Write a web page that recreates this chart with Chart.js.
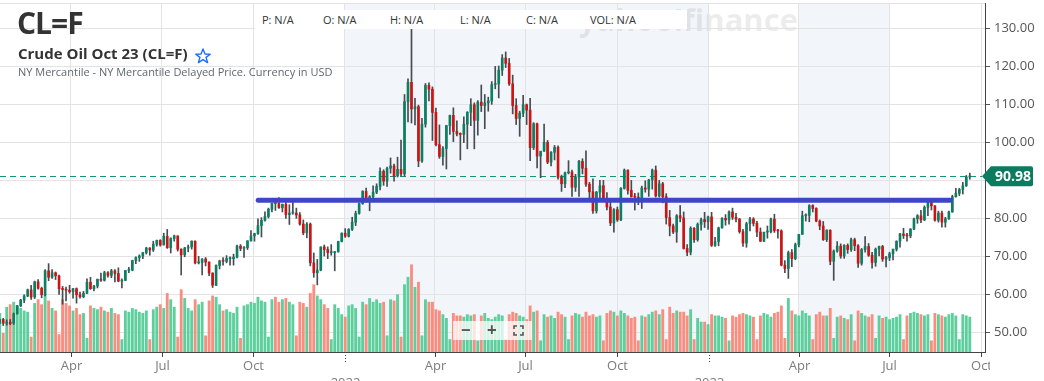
<!DOCTYPE html>
<html>
<head>
<meta charset="utf-8">
<script src="https://cdn.jsdelivr.net/npm/chart.js@4.4.0/dist/chart.umd.min.js"></script>
<style>
  body { margin: 0; background: #fff; font-family: 'Open Sans', sans-serif; }
  #wrap { position: relative; width: 1044px; height: 381px; overflow: hidden; }
  canvas { position: absolute; left: 0; top: 0; }
  .ov { position: absolute; white-space: nowrap; line-height: 1; }
  #sym { left: 17px; top: 8px; font-size: 30px; font-weight: 700; color: #333; letter-spacing: -1px; }
  #name { left: 18px; top: 46px; font-size: 15px; font-weight: 700; color: #333; }
  #star { left: 195px; top: 48px; }
  #sub { left: 18px; top: 66px; font-size: 11px; color: #5e6870; }
  #hdr { left: 255px; top: 10px; width: 432px; height: 19px; background: #fff; font-size: 11px; color: #333; }
  #hdr span { position: absolute; top: 4px; }
  #zoom { left: 453px; top: 321px; width: 79px; height: 19px; background: rgba(255,255,255,0.75); color: #555; font-size: 17px; font-weight: 700; }
  #zoom span { position: absolute; top: 0px; }
</style>
</head>
<body>
<div id="wrap">
  <canvas id="c" width="1044" height="381"></canvas>
  <div class="ov" id="sym">CL=F</div>
  <div class="ov" id="name">Crude Oil Oct 23 (CL=F)</div>
  <svg class="ov" id="star" width="16" height="16" viewBox="0 0 16 16"><polygon points="8,1 10,6 15.2,6.2 11.1,9.4 12.6,14.6 8,11.6 3.4,14.6 4.9,9.4 0.8,6.2 6,6" fill="none" stroke="#1a6dff" stroke-width="1.4" stroke-linejoin="round"/></svg>
  <div class="ov" id="sub">NY Mercantile - NY Mercantile Delayed Price. Currency in USD</div>
  <div class="ov" id="hdr">
    <span style="left:7px">P: N/A</span><span style="left:68px">O: N/A</span><span style="left:135px">H: N/A</span>
    <span style="left:205px">L: N/A</span><span style="left:271px">C: N/A</span><span style="left:335px">VOL: N/A</span>
  </div>
  <div class="ov" id="zoom">
    <span style="left:8px">&minus;</span><span style="left:34px">+</span>
    <svg style="position:absolute;left:60px;top:4px" width="11" height="11" viewBox="0 0 11 11"><path d="M1 4V1h3M7 1h3v3M10 7v3H7M4 10H1V7" fill="none" stroke="#555" stroke-width="1.6"/></svg>
  </div>
</div>
<script>
// ─── Data: half-week candles [open, high, low, close] from 18 Jan 2021 ───────
const firstDate = '2021-01-18';
const daysPerCandle = 3.5;

const ohlc2021 = [
  [52.4,53.4,52.2,53.3],[53.3,53.6,51.7,52.3],[52.3,53.2,51.8,52.6],[52.6,53.3,51.9,52.2],
  [52.3,55.0,52.0,54.8],[54.8,57.0,54.7,56.9],[56.9,58.6,56.7,58.4],[58.4,59.8,57.7,59.5],
  [59.5,61.3,59.3,61.1],[61.1,62.3,58.6,59.2],[59.2,63.4,58.8,63.2],[63.2,63.8,61.3,61.5],
  [61.5,61.8,59.0,59.8],[59.8,66.4,59.5,66.1],[66.1,68.0,63.5,64.4],[64.4,66.4,64.1,65.6],
  [65.6,65.8,63.8,64.8],[64.8,65.0,59.9,61.4],[61.4,62.0,57.3,61.2],[61.2,61.8,58.2,61.0],
  [61.0,62.3,60.2,60.6],[60.6,61.5,58.9,61.4],[61.4,61.6,57.6,59.8],[59.8,60.5,58.9,59.3],
  [59.3,60.7,59.0,60.2],[60.2,64.0,60.1,63.1],[63.1,64.4,61.2,61.4],[61.4,62.3,60.8,62.1],
  [62.1,63.9,61.6,63.9],[63.9,65.5,63.3,63.6],[63.6,66.0,63.4,65.6],[65.6,65.9,64.4,64.9],
  [64.9,66.5,64.3,66.1],[66.1,66.4,63.2,65.4],[65.4,66.9,63.2,63.4],[63.4,64.0,61.6,63.6],
  [63.6,66.2,63.5,66.2],[66.2,67.0,65.6,66.3],[66.3,68.9,66.1,68.8],[68.8,69.8,68.0,69.6],
  [69.6,70.3,68.6,70.0],[70.0,70.9,69.3,70.9],[70.9,72.3,70.5,72.1],[72.1,72.2,70.2,71.6],
  [71.6,73.9,71.2,73.1],[73.1,74.2,72.6,74.1],[74.1,74.3,72.6,72.9],[72.9,76.0,72.9,75.2],
  [75.2,77.0,72.0,72.2],[72.2,74.8,70.8,74.6],[74.6,75.5,73.9,75.3],[75.3,75.3,71.3,71.8],
  [71.8,71.9,65.0,70.3],[70.3,72.3,69.8,72.1],[72.1,72.9,71.1,72.4],[72.4,74.0,71.8,73.9],
  [73.9,74.0,67.9,68.2],[68.2,69.9,67.9,68.3],[68.3,69.3,65.0,69.2],[69.2,69.6,67.4,68.4],
  [68.4,68.5,64.8,65.5],[65.5,65.6,61.7,62.3],[62.3,67.7,62.2,67.5],[67.5,68.9,66.6,68.7],
  [68.7,69.6,67.6,68.6],[68.6,70.1,68.2,69.3],[69.3,69.8,67.6,69.3],[69.3,70.5,67.6,69.7],
  [69.7,72.9,69.5,72.6],[72.6,73.0,71.4,72.0],[72.0,72.5,69.6,72.2],[72.2,74.0,71.7,74.0],
  [74.0,76.7,73.9,75.3],[75.3,76.0,73.9,75.9],[75.9,79.8,75.7,78.0],[78.0,80.1,75.0,79.4],
  [79.4,81.6,79.2,80.4],[80.4,82.6,80.0,82.3],[82.3,83.9,81.6,83.9],[83.9,84.0,82.0,83.8],
  [83.8,85.4,82.5,82.7],[82.7,83.7,81.6,83.6],[83.6,84.9,79.9,80.9],[80.9,83.5,78.3,81.3],
  [81.3,84.9,81.0,81.3],[81.3,82.6,79.9,80.8],[80.8,81.4,78.1,78.4],[78.4,79.5,75.6,76.1],
  [76.1,78.8,74.8,78.4],[78.4,78.7,67.4,68.2],[68.2,70.8,64.4,65.6],[65.6,69.1,62.4,66.3],
  [66.3,72.4,66.1,72.4],[72.4,72.9,70.0,71.7],[71.7,72.4,69.3,70.9],[70.9,73.0,70.2,70.9],
  [70.9,71.2,66.1,71.1],[71.1,73.9,71.0,73.8],[73.8,76.1,73.7,76.0],[76.0,77.2,74.9,75.2]
];
const ohlc2022 = [
  [75.2,77.2,75.0,77.0],[77.0,80.2,76.7,78.9],[78.9,81.8,78.0,81.2],[81.2,83.9,81.0,83.8],
  [83.8,87.2,83.6,87.0],[87.0,87.9,84.2,85.1],[85.1,85.9,81.9,85.6],[85.6,88.5,85.0,86.8],
  [86.8,89.0,86.4,88.3],[88.3,93.2,87.4,92.3],[92.3,92.7,88.6,89.7],[89.7,93.4,88.3,93.1],
  [93.1,95.8,91.8,93.7],[93.7,94.2,89.7,91.1],[91.1,96.0,90.8,92.8],[92.8,100.5,91.1,91.6],
  [91.6,112.5,91.0,110.6],[110.6,116.6,105.3,115.7],[115.7,130.5,105.0,108.7],[108.7,111.5,104.5,109.3],
  [109.3,109.7,93.5,95.0],[95.0,106.2,94.6,104.7],[104.7,115.4,103.9,114.9],[114.9,115.6,110.8,113.9],
  [113.9,114.5,100.4,107.8],[107.8,108.9,99.0,99.3],[99.3,104.5,95.7,96.2],[96.2,98.8,93.9,98.3],
  [98.3,104.4,92.9,104.3],[104.3,107.1,102.0,107.0],[107.0,109.0,100.1,102.8],[102.8,105.6,101.6,102.1],
  [102.1,102.4,95.3,102.0],[102.0,106.6,99.8,104.7],[104.7,108.0,98.2,107.8],[107.8,111.4,104.3,109.8],
  [109.8,110.3,98.2,105.7],[105.7,110.9,101.8,110.5],[110.5,115.0,108.0,109.6],[109.6,112.5,103.5,110.3],
  [110.3,111.8,108.1,110.8],[110.8,115.9,109.9,115.1],[115.1,119.9,114.0,115.3],[115.3,120.0,111.6,118.9],
  [118.9,123.0,117.5,122.1],[122.1,123.7,119.6,120.7],[120.7,122.0,114.9,115.3],[115.3,117.6,107.4,109.6],
  [109.6,111.4,104.6,106.2],[106.2,108.1,101.5,107.6],[107.6,112.3,106.7,109.8],[109.8,110.0,104.6,108.4],
  [108.4,111.5,95.1,98.5],[98.5,105.1,98.0,104.8],[104.8,105.0,93.2,96.3],[96.3,97.2,90.6,97.6],
  [97.6,104.7,97.5,99.9],[99.9,100.4,94.3,94.7],[94.7,97.5,93.7,97.3],[97.3,99.1,95.3,98.6],
  [98.6,99.0,90.2,90.7],[90.7,91.3,87.0,89.0],[89.0,92.1,88.0,91.9],[91.9,95.1,91.6,92.1],
  [92.1,92.6,85.7,88.1],[88.1,91.5,87.0,90.8],[90.8,95.2,85.7,94.9],[94.9,95.6,91.6,93.1],
  [93.1,97.7,88.3,88.9],[88.9,89.4,85.0,86.9],[86.9,90.3,81.2,81.9],[81.9,87.0,81.3,86.8],
  [86.8,89.9,85.0,88.5],[88.5,89.9,84.7,85.1],[85.1,86.7,82.1,82.9],[82.9,84.2,78.0,78.7],
  [78.7,82.5,76.3,82.2],[82.2,82.9,79.1,79.5],[79.5,88.0,79.3,87.8],[87.8,92.9,87.6,92.6],
  [92.6,92.7,86.3,87.3],[87.3,89.9,85.5,85.6],[85.6,86.5,82.1,85.5],[85.5,86.6,83.5,85.1],
  [85.1,88.4,82.5,87.9],[87.9,89.8,86.8,87.6],[87.6,90.2,85.7,90.0],[90.0,92.9,87.6,92.6],
  [92.6,93.7,85.5,85.8],[85.8,89.9,85.5,89.0],[89.0,89.4,84.0,85.6],[85.6,86.4,78.4,80.1],
  [80.1,82.0,75.3,77.9],[77.9,78.4,75.9,76.3],[76.3,80.9,73.6,80.6],[80.6,83.3,79.0,80.0],
  [80.0,81.6,71.8,72.0],[72.0,73.0,70.1,71.0],[71.0,77.7,70.3,77.3],[77.3,77.5,73.6,74.3],
  [74.3,78.7,73.9,78.3],[78.3,80.0,76.8,79.6],[79.6,81.5,77.5,79.0],[79.0,80.5,77.0,80.3]
];
const ohlc2023 = [
  [80.3,81.5,72.5,72.8],[72.8,74.9,72.5,73.8],[73.8,77.6,72.7,77.4],[77.4,80.1,77.3,79.9],
  [79.9,80.9,78.1,79.5],[79.5,81.9,78.4,81.6],[81.6,82.6,79.6,80.2],[80.2,81.2,79.0,79.7],
  [79.7,79.9,76.0,76.4],[76.4,77.0,72.5,73.4],[73.4,78.9,72.3,78.5],[78.5,80.2,76.6,79.7],
  [79.7,80.1,77.9,78.6],[78.6,79.1,75.1,76.3],[76.3,77.4,73.8,73.9],[73.9,76.0,73.8,76.3],
  [76.3,77.9,74.7,76.4],[76.4,80.0,76.1,79.7],[79.7,81.0,76.2,76.7],[76.7,77.0,74.7,76.6],
  [76.6,76.9,67.4,67.6],[67.6,68.8,65.6,66.7],[66.7,71.3,64.1,70.9],[70.9,71.7,67.2,69.3],
  [69.3,73.4,69.0,73.0],[73.0,75.7,72.4,75.7],[75.7,81.8,75.7,80.6],[80.6,81.1,79.2,80.7],
  [80.7,83.5,79.0,83.3],[83.3,83.5,81.6,82.5],[82.5,82.7,79.0,79.2],[79.2,79.5,76.9,77.9],
  [77.9,79.1,74.1,74.3],[74.3,76.9,73.8,76.8],[76.8,76.9,67.7,68.6],[68.6,71.6,63.6,71.3],
  [71.3,73.8,71.0,72.6],[72.6,73.2,69.4,70.0],[70.0,73.0,69.4,72.8],[72.8,73.2,70.7,71.7],
  [71.7,74.7,71.2,74.3],[74.3,74.7,71.4,72.7],[72.7,73.0,67.0,68.1],[68.1,72.0,67.6,71.7],
  [71.7,75.1,71.0,72.5],[72.5,73.3,69.9,70.2],[70.2,71.0,66.8,68.3],[68.3,72.1,67.3,71.8],
  [71.8,72.6,70.0,72.5],[72.5,72.8,68.6,69.2],[69.2,69.9,67.1,69.6],[69.6,71.0,68.8,70.6],
  [70.6,71.8,69.0,71.8],[71.8,74.0,71.3,73.9],[73.9,76.0,72.3,75.8],[75.8,77.3,74.6,75.4],
  [75.4,76.0,73.9,75.3],[75.3,77.2,74.8,77.1],[77.1,80.0,76.9,79.8],[79.8,80.9,78.6,80.6],
  [80.6,82.0,78.8,79.5],[79.5,83.2,79.3,82.8],[82.8,84.9,80.6,84.4],[84.4,84.9,82.1,83.2],
  [83.2,83.3,79.2,79.4],[79.4,81.8,78.9,81.3],[81.3,81.8,77.6,78.9],[78.9,80.2,77.6,79.8],
  [79.8,81.8,79.6,81.6],[81.6,86.0,81.5,85.6],[85.6,87.8,85.5,86.5],[86.5,87.8,85.9,87.5],
  [87.5,89.4,86.3,88.5],[88.5,91.2,88.3,90.8],[90.8,91.8,90.2,90.98]
];

// volume, thousands of contracts, one per candle
const vol2021 = [310,150,360,380,400,370,350,330,320,120,390,420,380,460,410,350,330,140,420,390,
  370,330,350,300,310,110,370,350,340,360,330,320,350,310,300,100,330,320,350,340,
  320,310,330,100,340,360,380,350,470,420,360,120,500,430,350,330,420,380,400,130,
  410,450,440,380,330,340,320,310,360,110,370,380,400,390,440,410,400,120,420,440,
  400,420,430,400,380,130,400,390,360,470,540,450,420,380,350,100,380,350,300,280];
const vol2022 = [370,380,350,120,400,380,430,400,420,390,400,130,420,410,460,120,540,600,700,520,
  560,130,420,400,400,340,330,300,270,100,310,290,290,280,300,290,300,90,290,310,
  270,260,280,300,290,100,300,320,310,290,280,260,370,320,330,90,300,280,290,270,
  320,300,280,100,290,310,300,280,320,290,300,280,290,90,310,330,320,290,330,310,
  290,270,280,90,290,280,300,320,330,300,340,100,360,310,330,320,320,290,340,100,
  270,240,240,220];
const vol2023 = [300,290,290,280,270,90,290,280,300,310,300,290,280,100,290,310,300,280,310,320,
  370,110,430,330,300,290,330,310,290,100,300,320,290,290,350,110,280,290,270,260,
  300,90,330,310,290,280,300,110,290,270,280,260,270,280,300,100,290,310,320,310,
  300,290,300,90,310,300,290,280,300,310,290,100,300,290,280];

// axis + annotations
const tickDates = ['2021-04-01','2021-07-01','2021-10-01','2022-01-01','2022-04-01','2022-07-01',
  '2022-10-01','2023-01-01','2023-04-01','2023-07-01','2023-10-01'];
const tickLabels = ['Apr','Jul','Oct','2022','Apr','Jul','Oct','2023','Apr','Jul','Oct'];
const priceTicks = [50, 60, 70, 80, 90, 100, 110, 120, 130];
const shadedRanges = [['2022-01-01','2023-01-01'], ['2023-04-01','2023-07-01']];
const levelLine = { from: '2021-10-06', to: '2023-08-31', price: 84.7 };
const viewFrom = '2021-01-20', viewTo = '2023-10-05';

const COL = {
  up: '#0b7f62', down: '#cc1414', wick: '#454c53',
  volUp: '#5ccf9c', volDown: '#f98e80',
  grid: '#e3e3e3', axis: '#444', band: '#f2f5f9',
  level: '#3f45c9', last: '#0c7b60',
};

const T0 = Date.parse(firstDate + 'T00:00:00Z');
const dayOf = s => (Date.parse(s + 'T00:00:00Z') - T0) / 864e5;

const ohlc = [...ohlc2021, ...ohlc2022, ...ohlc2023];
const vols = [...vol2021, ...vol2022, ...vol2023];
const xs = ohlc.map((_, i) => i * daysPerCandle + daysPerCandle / 2);
const isUp = ohlc.map(r => r[3] >= r[0]);
const lastClose = ohlc[ohlc.length - 1][3];

const noPad = ax => { ax.paddingTop = 0; ax.paddingBottom = 0; ax.paddingLeft = 0; ax.paddingRight = 0; };

const decor = {
  id: 'decor',
  beforeDraw(chart) {
    const { ctx, chartArea: a, scales: { x } } = chart;
    ctx.save();
    ctx.fillStyle = COL.band;
    shadedRanges.forEach(([s, e]) => {
      const x1 = x.getPixelForValue(dayOf(s)), x2 = x.getPixelForValue(dayOf(e));
      ctx.fillRect(x1, a.top, x2 - x1, a.bottom - a.top);
    });
    ctx.strokeStyle = COL.grid;
    ctx.beginPath(); ctx.moveTo(a.left, a.top + 0.5); ctx.lineTo(a.right, a.top + 0.5); ctx.stroke();
    // watermark
    ctx.font = 'bold 31px "Open Sans"';
    ctx.fillStyle = 'rgba(0,0,0,0.075)';
    ctx.textAlign = 'right';
    ctx.fillText('yahoo!finance', 798, 31);
    ctx.restore();
  },
  beforeDatasetsDraw(chart) {
    const { ctx, chartArea: a, scales: { y } } = chart;
    const py = Math.round(y.getPixelForValue(lastClose)) + 0.5;
    ctx.save();
    ctx.strokeStyle = '#17937a';
    ctx.setLineDash([6, 4]);
    ctx.beginPath(); ctx.moveTo(a.left, py); ctx.lineTo(a.right - 3, py); ctx.stroke();
    ctx.restore();
  },
  afterDraw(chart) {
    const { ctx, chartArea: a, scales: { x, y } } = chart;
    ctx.save();
    // x ticks and labels, clipped at the price axis
    ctx.beginPath(); ctx.rect(0, a.bottom, a.right + 5, 40); ctx.clip();
    ctx.font = '13px "Open Sans"';
    ctx.fillStyle = '#7c7c7c';
    ctx.textAlign = 'center'; ctx.textBaseline = 'middle';
    ctx.strokeStyle = COL.axis; ctx.lineWidth = 1;
    tickDates.forEach((d, i) => {
      const px = Math.round(x.getPixelForValue(dayOf(d))) + 0.5;
      const yr = /^\d{4}$/.test(tickLabels[i]);
      ctx.setLineDash(yr ? [1, 2] : []);
      ctx.beginPath(); ctx.moveTo(px, a.bottom); ctx.lineTo(px, a.bottom + (yr ? 12 : 5)); ctx.stroke();
      ctx.fillText(tickLabels[i], px, a.bottom + (yr ? 31 : 14));
    });
    ctx.restore();

    // last price tag
    const py = y.getPixelForValue(lastClose);
    const tip = a.right - 3, l = a.right + 6, r = a.right + 48;
    ctx.save();
    ctx.fillStyle = COL.last;
    ctx.beginPath();
    ctx.moveTo(tip, py);
    ctx.lineTo(l, py - 10);
    ctx.lineTo(r - 2, py - 10);
    ctx.quadraticCurveTo(r, py - 10, r, py - 8);
    ctx.lineTo(r, py + 8);
    ctx.quadraticCurveTo(r, py + 10, r - 2, py + 10);
    ctx.lineTo(l, py + 10);
    ctx.closePath();
    ctx.fill();
    ctx.fillStyle = '#fff';
    ctx.font = 'bold 14px "Open Sans"';
    ctx.textAlign = 'center'; ctx.textBaseline = 'middle';
    ctx.fillText(lastClose.toFixed(2), (l + r) / 2 + 1, py + 1);
    ctx.restore();
  }
};

new Chart(document.getElementById('c'), {
  type: 'bar',
  data: {
    datasets: [
      {
        type: 'line', order: 1,
        data: [{ x: dayOf(levelLine.from), y: levelLine.price }, { x: dayOf(levelLine.to), y: levelLine.price }],
        borderColor: COL.level, borderWidth: 5, borderCapStyle: 'round', pointRadius: 0, yAxisID: 'y',
      },
      {
        order: 2, grouped: false, yAxisID: 'y',
        data: xs.map((x, i) => ({ x, y: [ohlc[i][0], ohlc[i][3]] })),
        backgroundColor: isUp.map(u => u ? COL.up : COL.down),
        barThickness: 2, minBarLength: 1,
      },
      {
        order: 3, grouped: false, yAxisID: 'y',
        data: xs.map((x, i) => ({ x, y: [ohlc[i][2], ohlc[i][1]] })),
        backgroundColor: COL.wick,
        barThickness: 1,
      },
      {
        order: 4, grouped: false, yAxisID: 'yv',
        data: xs.map((x, i) => ({ x, y: vols[i] })),
        backgroundColor: isUp.map(u => u ? COL.volUp : COL.volDown),
        barThickness: 2.2,
      },
    ]
  },
  options: {
    responsive: false,
    devicePixelRatio: 1,
    animation: false,
    layout: { padding: { top: 3, left: 0, right: 0, bottom: 0 } },
    plugins: { legend: { display: false }, tooltip: { enabled: false } },
    scales: {
      x: {
        type: 'linear', offset: false,
        min: dayOf(viewFrom), max: dayOf(viewTo),
        afterBuildTicks: ax => { ax.ticks = tickDates.map(d => ({ value: dayOf(d) })); },
        afterFit: ax => { ax.height = 29; noPad(ax); },
        grid: { color: COL.grid, drawTicks: false, offset: false },
        border: { color: COL.axis },
        ticks: { display: false },
      },
      y: {
        position: 'right',
        min: 44.74, max: 136.58,
        afterBuildTicks: ax => { ax.ticks = priceTicks.map(v => ({ value: v })); },
        afterFit: ax => { ax.width = 59; noPad(ax); },
        grid: { color: COL.grid, tickLength: 5, tickColor: '#555' },
        border: { color: COL.axis },
        ticks: { color: '#555', padding: 4, font: { family: 'Open Sans', size: 13 }, callback: v => v.toFixed(2) },
      },
      yv: { display: false, min: 0, max: 2800 },
    }
  },
  plugins: [decor]
});
</script>
</body>
</html>
